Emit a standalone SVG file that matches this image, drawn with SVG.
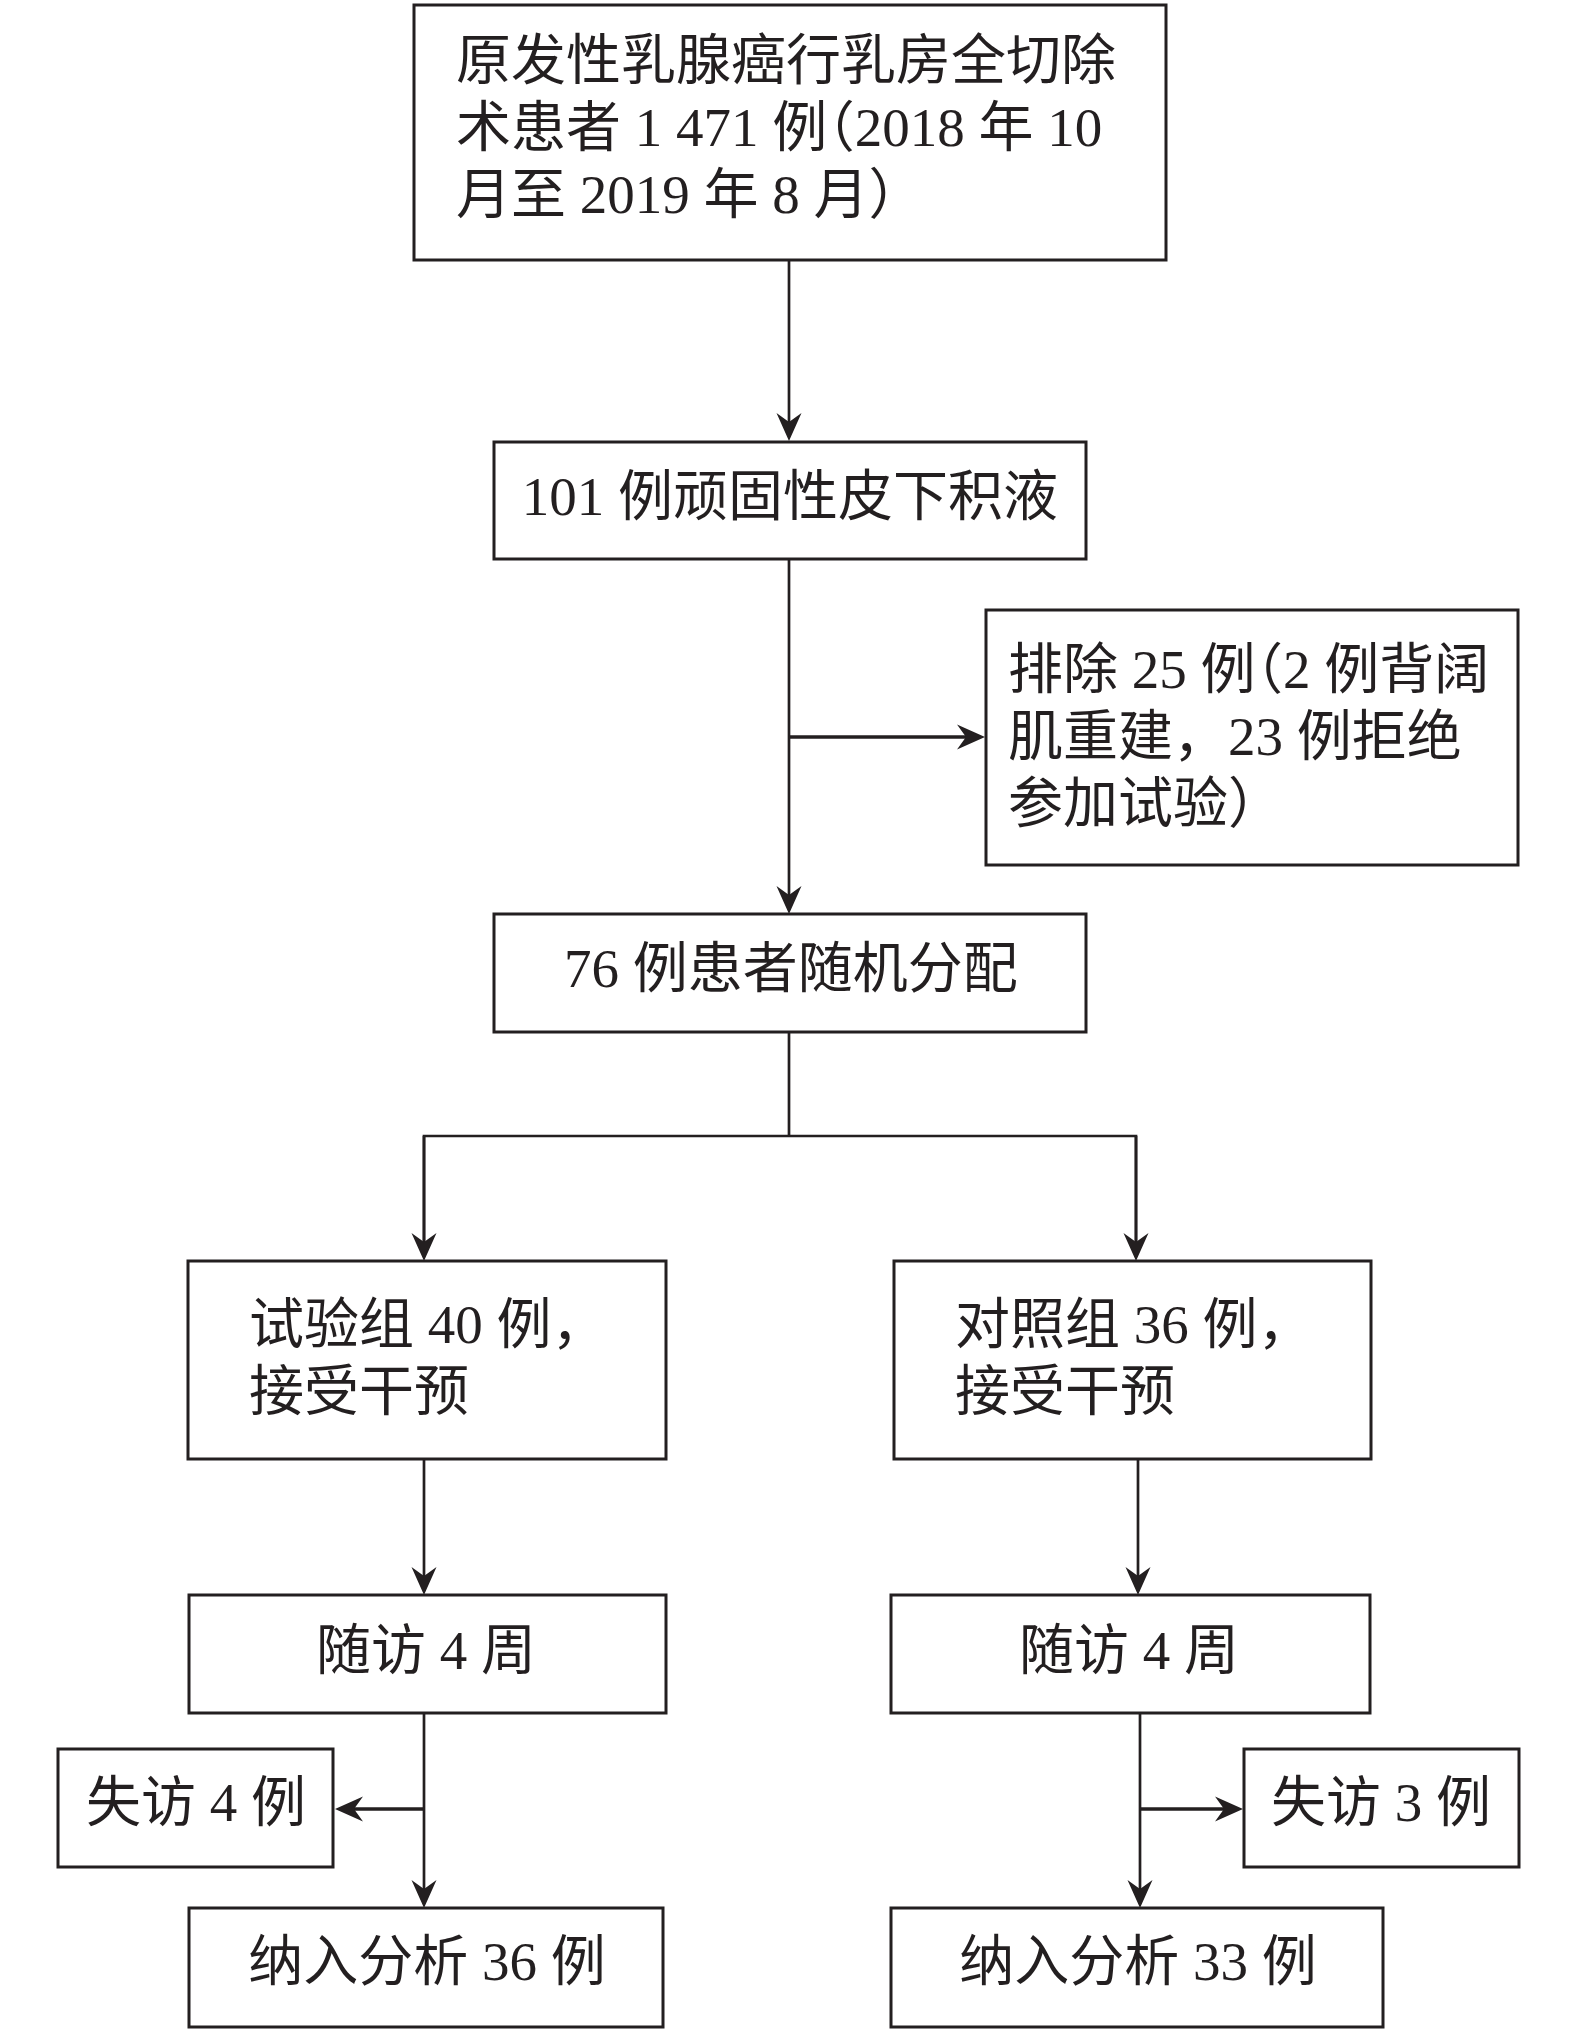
<svg xmlns="http://www.w3.org/2000/svg" width="1575" height="2031" viewBox="0 0 1575 2031">
<style>
.box{fill:#fff;stroke:#231f20;stroke-width:3}
.t{font-family:"Liberation Serif","Noto Sans CJK SC",serif;font-size:55px;fill:#231f20}
.m{text-anchor:middle}
.hp{font-feature-settings:"halt" 1}
.ln{fill:none;stroke:#231f20;stroke-width:2.7}
.lh{fill:none;stroke:#231f20;stroke-width:3.5}
</style>
<defs>
<marker id="ah" viewBox="-18 -14 32 28" refX="0" refY="0" markerWidth="32" markerHeight="28" markerUnits="userSpaceOnUse" orient="auto">
<path d="M12,0 L-16,-12.5 L-7,0 L-16,12.5 Z" fill="#231f20"/>
</marker>
</defs>
<rect width="1575" height="2031" fill="#fff"/>
<g id="connectors">
<line class="ln" x1="789" y1="261" x2="789" y2="429" marker-end="url(#ah)"/>
<line class="ln" x1="789" y1="559" x2="789" y2="902" marker-end="url(#ah)"/>
<line class="lh" x1="789" y1="737" x2="973" y2="737" marker-end="url(#ah)"/>
<polyline class="ln" points="789,1032 789,1136"/>
<polyline class="ln" points="424,1249 424,1136 1136,1136 1136,1249"/>
<line class="ln" x1="424" y1="1136" x2="424" y2="1249" marker-end="url(#ah)"/>
<line class="ln" x1="1136" y1="1136" x2="1136" y2="1249" marker-end="url(#ah)"/>
<line class="ln" x1="424" y1="1459" x2="424" y2="1583" marker-end="url(#ah)"/>
<line class="ln" x1="1138" y1="1459" x2="1138" y2="1583" marker-end="url(#ah)"/>
<line class="ln" x1="424" y1="1713" x2="424" y2="1896" marker-end="url(#ah)"/>
<line class="lh" x1="424" y1="1809" x2="347" y2="1809" marker-end="url(#ah)"/>
<line class="ln" x1="1140" y1="1713" x2="1140" y2="1896" marker-end="url(#ah)"/>
<line class="lh" x1="1140" y1="1809" x2="1231" y2="1809" marker-end="url(#ah)"/>
</g>
<g id="n1">
<rect class="box" x="414" y="5" width="752" height="255"/>
<text class="t" x="456" y="79">原发性乳腺癌行乳房全切除</text>
<text class="t" x="456" y="146">术患者 1 471 例<tspan class="hp">（</tspan>2018 年 10</text>
<text class="t" x="456" y="213">月至 2019 年 8 月<tspan class="hp">）</tspan></text>
</g>
<g id="n2">
<rect class="box" x="494" y="442" width="592" height="117"/>
<text class="t m" x="790" y="515">101 例顽固性皮下积液</text>
</g>
<g id="n3">
<rect class="box" x="986" y="610" width="532" height="255"/>
<text class="t" x="1008" y="688">排除 25 例<tspan class="hp">（</tspan>2 例背阔</text>
<text class="t" x="1008" y="755">肌重建，23 例拒绝</text>
<text class="t" x="1008" y="822">参加试验<tspan class="hp">）</tspan></text>
</g>
<g id="n4">
<rect class="box" x="494" y="914" width="592" height="118"/>
<text class="t m" x="791" y="987">76 例患者随机分配</text>
</g>
<g id="n5">
<rect class="box" x="188" y="1261" width="478" height="198"/>
<text class="t" x="249" y="1343">试验组 40 例，</text>
<text class="t" x="249" y="1410">接受干预</text>
</g>
<g id="n6">
<rect class="box" x="894" y="1261" width="477" height="198"/>
<text class="t" x="955" y="1343">对照组 36 例，</text>
<text class="t" x="955" y="1410">接受干预</text>
</g>
<g id="n7">
<rect class="box" x="189" y="1595" width="477" height="118"/>
<text class="t m" x="426" y="1669">随访 4 周</text>
</g>
<g id="n8">
<rect class="box" x="891" y="1595" width="479" height="118"/>
<text class="t m" x="1129" y="1669">随访 4 周</text>
</g>
<g id="n9">
<rect class="box" x="58" y="1749" width="275" height="118"/>
<text class="t m" x="196" y="1821">失访 4 例</text>
</g>
<g id="n10">
<rect class="box" x="1244" y="1749" width="275" height="118"/>
<text class="t m" x="1381" y="1821">失访 3 例</text>
</g>
<g id="n11">
<rect class="box" x="189" y="1908" width="474" height="119"/>
<text class="t m" x="427" y="1980">纳入分析 36 例</text>
</g>
<g id="n12">
<rect class="box" x="891" y="1908" width="492" height="119"/>
<text class="t m" x="1138" y="1980">纳入分析 33 例</text>
</g>
</svg>
